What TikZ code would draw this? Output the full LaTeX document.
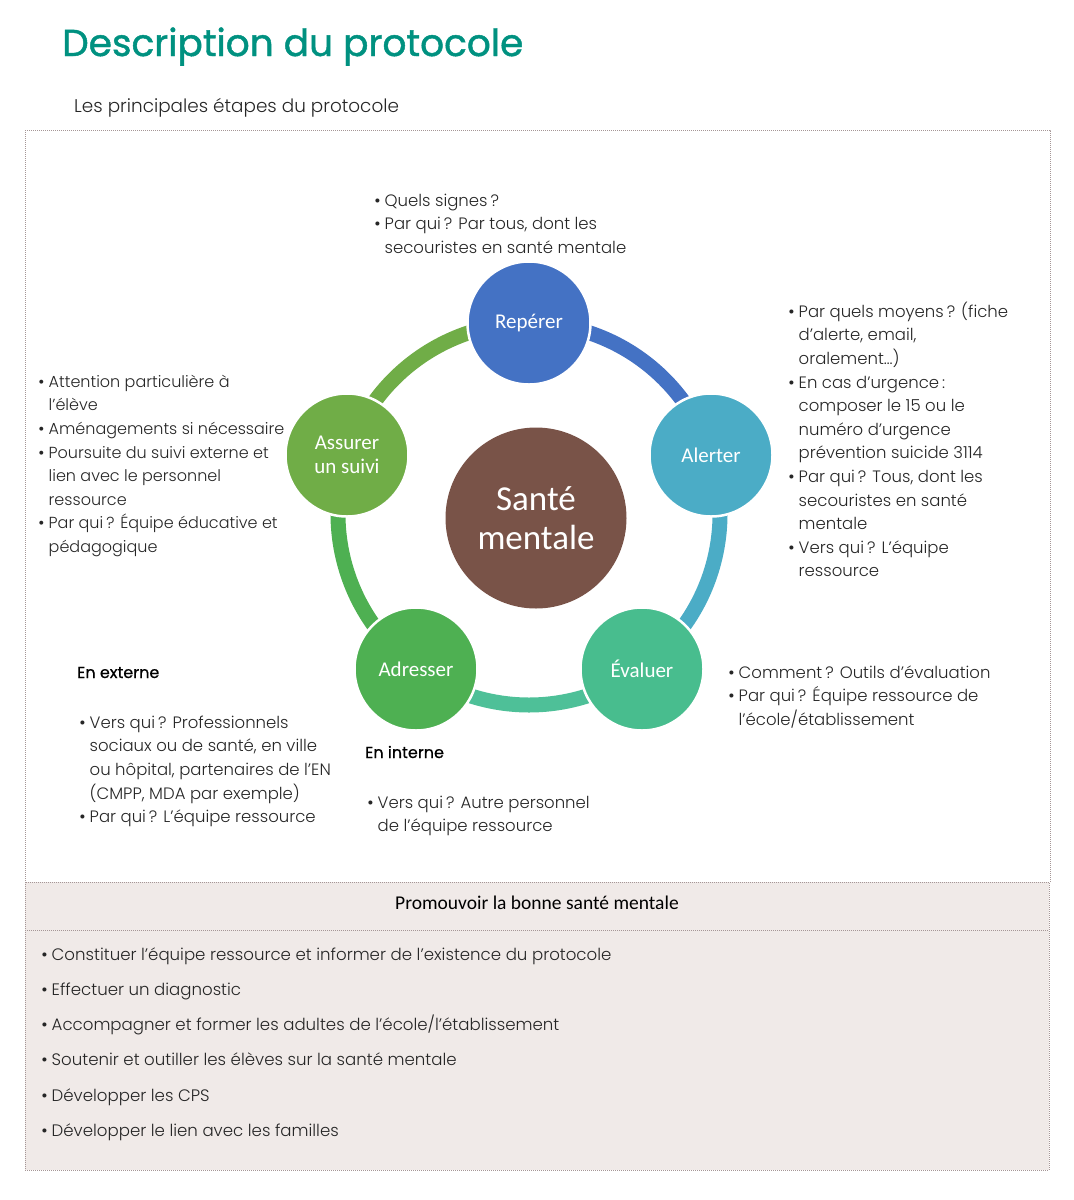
\documentclass[tikz,border=0pt]{standalone}
\usepackage{fontspec}
\IfFontExistsTF{Poppins Light}{\setmainfont{Poppins Light}}{\setmainfont{Poppins}}
\newfontfamily\calfont{Carlito}
\newfontfamily\bulfont{Poppins}
\newfontfamily\medfont{Poppins}[FakeBold=0.6]
\newfontfamily\titlefont{Poppins}[FakeBold=1.2]
\definecolor{titlegreen}{RGB}{0,145,128}
\definecolor{txtgray}{RGB}{38,38,38}
\definecolor{cReperer}{RGB}{68,114,196}
\definecolor{cAlerter}{RGB}{75,172,198}
\definecolor{cEvaluer}{RGB}{72,189,142}
\definecolor{cEvalArc}{RGB}{78,192,152}
\definecolor{cAdresser}{RGB}{78,176,82}
\definecolor{cAssurer}{RGB}{112,173,71}
\definecolor{cBrown}{RGB}{121,83,72}
\definecolor{pinkbg}{RGB}{240,234,232}
\definecolor{dotgray}{RGB}{165,150,150}
\newcommand{\Bl}{\makebox[10.5pt][l]{{\bulfont\textbullet}}}
\newcommand{\In}{\hspace*{10.5pt}}
\newcommand{\q}{\kern3pt?}
\newcommand{\cl}{\kern3pt:}
\tikzset{
  stepcircle/.style={circle, minimum size=123pt, inner sep=0pt, draw=white, line width=2.5pt,
     text=white, align=center, font=\calfont\fontsize{21}{24}\selectfont},
  ringseg/.style={line width=15pt},
  txtblock/.style={anchor=north west, inner sep=0pt, align=left, text=txtgray,
     font=\fontsize{16.5}{23.6}\selectfont},
  headtxt/.style={anchor=base west, inner sep=0pt, text=black, font=\medfont\fontsize{16}{20}\selectfont},
  dotline/.style={draw=dotgray, line width=1pt, dash pattern=on 1pt off 1pt}
}
\begin{document}
\begin{tikzpicture}[x=1pt,y=-1pt]
\useasboundingbox (0,0) rectangle (1074,1200);
% title
\node[anchor=base west, inner sep=0pt, text=titlegreen, font=\titlefont\fontsize{37.5}{44}\selectfont] (title) at (62,56) {Description du protocole};
\node[anchor=base west, inner sep=0pt, text=txtgray, font=\fontsize{18.4}{24}\selectfont] (subtitle) at (74,112) {Les principales étapes du protocole};
% boxes
\fill[pinkbg] (25,882) rectangle (1049,1170);
\draw[dotline] (25,130) -- (1050,130) -- (1050,882);
\draw[dotline] (25,130) -- (25,1170) -- (1049,1170) -- (1049,882) -- (25,882);
\draw[dotline] (25,930) -- (1049,930);
% ring
\coordinate (ctr) at (529,514);
\draw[ringseg, cReperer] (ctr) ++(90:191pt) arc[start angle=90, end angle=18, radius=191pt];
\draw[ringseg, cAlerter] (ctr) ++(18:191pt) arc[start angle=18, end angle=-54, radius=191pt];
\draw[ringseg, cEvalArc] (ctr) ++(-54:191pt) arc[start angle=-54, end angle=-126, radius=191pt];
\draw[ringseg, cAdresser] (ctr) ++(-126:191pt) arc[start angle=-126, end angle=-198, radius=191pt];
\draw[ringseg, cAssurer] (ctr) ++(162:191pt) arc[start angle=162, end angle=90, radius=191pt];
% step circles
\node[stepcircle, fill=cReperer] (reperer) at (529,323) {Repérer};
\node[stepcircle, fill=cAlerter] (alerter) at (711,455) {Alerter};
\node[stepcircle, fill=cEvaluer] (evaluer) at (642,669) {Évaluer};
\node[stepcircle, fill=cAdresser] (adresser) at (416,669) {Adresser};
\node[stepcircle, fill=cAssurer] (assurer) at (347,455) {Assurer\\un suivi};
\node[circle, minimum size=181pt, inner sep=0pt, fill=cBrown, text=white, align=center,
      font=\calfont\fontsize{35}{39}\selectfont] (sante) at (536,518) {Santé\\mentale};
% text blocks
\node[txtblock] (treperer) at (374,189.5) {\strut\Bl Quels signes\q\\\Bl Par qui\q{} Par tous, dont les\\\In secouristes en santé mentale};
\node[txtblock] (talerter) at (788,300.5) {\strut\Bl Par quels moyens\q{} (fiche\\\In d’alerte, email,\\\In oralement…)\\\Bl En cas d’urgence\cl\\\In composer le 15 ou le\\\In numéro d’urgence\\\In prévention suicide 3114\\\Bl Par qui\q{} Tous, dont les\\\In secouristes en santé\\\In mentale\\\Bl Vers qui\q{} L’équipe\\\In ressource};
\node[txtblock, font=\fontsize{16}{23.6}\selectfont] (tassurer) at (38,370.5) {\strut\Bl Attention particulière à\\\In l’élève\\\Bl Aménagements si nécessaire\\\Bl Poursuite du suivi externe et\\\In lien avec le personnel\\\In ressource\\\Bl Par qui\q{} Équipe éducative et\\\In pédagogique};
\node[txtblock] (tevaluer) at (728,661.5) {\strut\Bl Comment\q{} Outils d’évaluation\\\Bl Par qui\q{} Équipe ressource de\\\In l’école/établissement};
\node[headtxt] (lexterne) at (77,678) {En externe};
\node[txtblock] (texterne) at (79,711.5) {\strut\Bl Vers qui\q{} Professionnels\\\In sociaux ou de santé, en ville\\\In ou hôpital, partenaires de l’EN\\\In (CMPP, MDA par exemple)\\\Bl Par qui\q{} L’équipe ressource};
\node[headtxt] (linterne) at (365,758) {En interne};
\node[txtblock] (tinterne) at (367,791.5) {\strut\Bl Vers qui\q{} Autre personnel\\\In de l’équipe ressource};
% bottom
\node[anchor=base, inner sep=0pt, text=black, font=\calfont\fontsize{19.5}{22}\selectfont] (promo) at (537,909) {Promouvoir la bonne santé mentale};
\node[txtblock, font=\fontsize{16.6}{35.2}\selectfont] (tpromo) at (41,935.5) {\strut\Bl Constituer l’équipe ressource et informer de l’existence du protocole\\\Bl Effectuer un diagnostic\\\Bl Accompagner et former les adultes de l’école/l’établissement\\\Bl Soutenir et outiller les élèves sur la santé mentale\\\Bl Développer les CPS\\\Bl Développer le lien avec les familles};
\end{tikzpicture}
\end{document}
